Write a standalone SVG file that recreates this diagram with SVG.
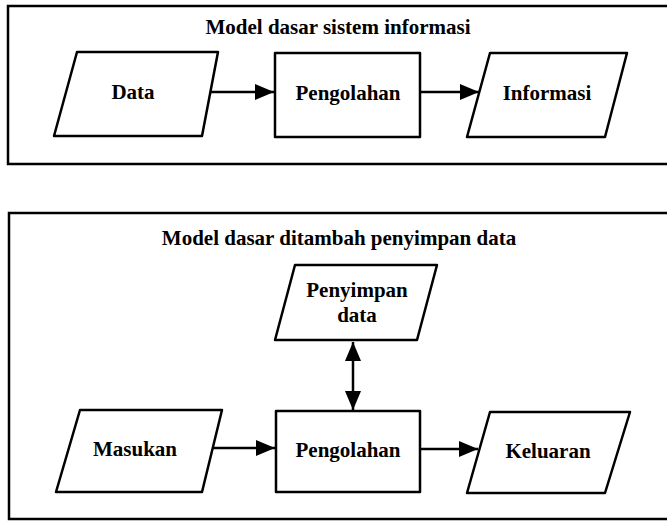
<svg xmlns="http://www.w3.org/2000/svg" width="667" height="522" viewBox="0 0 667 522">
<style>
.frame{fill:none;stroke:#000;stroke-width:2.5}
.shape{fill:#fff;stroke:#000;stroke-width:2.5;stroke-linejoin:round}
.conn{fill:none;stroke:#000;stroke-width:2.5}
text{font-family:"Liberation Serif","Times New Roman",serif;font-weight:bold;font-size:21px;fill:#000;text-anchor:middle}
</style>
<defs>
<marker id="ah" markerUnits="userSpaceOnUse" markerWidth="20" markerHeight="16" viewBox="0 0 20 16" refX="19" refY="8" orient="auto-start-reverse">
<path d="M0,0 L19,8 L0,16 Z" fill="#000"/>
</marker>
</defs>
<rect width="667" height="522" fill="#fff"/>
<g id="panel-top">
<path class="frame" d="M668,6 L8,6 L8,164 L668,164"/>
<text x="338" y="34">Model dasar sistem informasi</text>
</g>
<g id="panel-bottom">
<path class="frame" d="M668,213 L9,213 L9,519 L668,519"/>
<text x="339" y="245">Model dasar ditambah penyimpan data</text>
</g>
<g id="connectors">
<line class="conn" x1="210" y1="92" x2="274" y2="92" marker-end="url(#ah)"/>
<line class="conn" x1="420" y1="92" x2="479" y2="92" marker-end="url(#ah)"/>
<line class="conn" x1="213" y1="448" x2="275" y2="448" marker-end="url(#ah)"/>
<line class="conn" x1="420" y1="449" x2="478" y2="449" marker-end="url(#ah)"/>
<line class="conn" x1="353" y1="342" x2="353" y2="410" marker-start="url(#ah)" marker-end="url(#ah)"/>
</g>
<g id="node-data">
<polygon class="shape" points="77,52 218,52 202,136 54,136"/>
<text x="133" y="99">Data</text>
</g>
<g id="node-pengolahan1">
<rect class="shape" x="275" y="53" width="145" height="84"/>
<text x="348" y="100">Pengolahan</text>
</g>
<g id="node-informasi">
<polygon class="shape" points="490,53 627,53 605,137 467,137"/>
<text x="547" y="100">Informasi</text>
</g>
<g id="node-penyimpan">
<polygon class="shape" points="295,265 437,265 417,340 275,340"/>
<text x="357" y="297">Penyimpan</text>
<text x="357" y="322">data</text>
</g>
<g id="node-masukan">
<polygon class="shape" points="80,410 222,410 202,492 56,492"/>
<text x="135" y="456">Masukan</text>
</g>
<g id="node-pengolahan2">
<rect class="shape" x="276" y="411" width="144" height="81"/>
<text x="348" y="457">Pengolahan</text>
</g>
<g id="node-keluaran">
<polygon class="shape" points="490,412 630,412 605,493 467,493"/>
<text x="548" y="458">Keluaran</text>
</g>
</svg>
